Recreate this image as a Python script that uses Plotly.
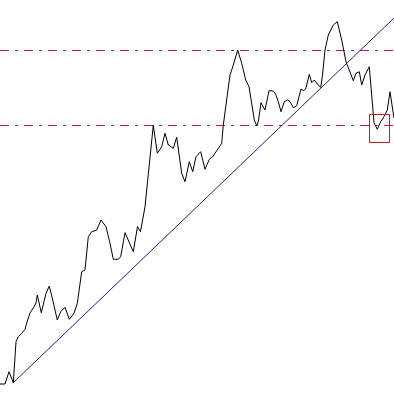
import plotly.graph_objects as go

W = 394
# time positions (bar index scale) and close prices (screen-derived scale)
t = [0,5,9,13.3,16,18.3,21.7,25,26.7,30,33.3,36,37.3,41.3,46,49.3,52.7,57.3,60.7,65,69.3,74,77.3,79.3,81.7,85,88.3,91.7,96.7,101,106,110,113.3,118.3,120.7,125,133.3,137.5,140.5,145,148.3,153.3,157.3,161.7,165,168.3,173.3,176.7,181.7,185,189.3,192.7,196,200.7,205,209.3,212.7,217.3,221.7,223.3,226.7,230,232.3,237.7,241.7,245.7,249,251.7,254.3,256.7,258.3,261,265,269,273.3,275.7,278.3,281,284.3,287.7,290,293.3,296.7,301,303.3,305.7,309.3,311.7,314.3,317.3,320.7,322.3,325,328.3,333.3,337.3,341.7,346,350,353.3,356,359.3,361.7,365,369.3,370.7,374,377.3,380.7,384,387.3,390,394]
ypix = [384,384,371.7,382.7,341.7,336.7,333.3,329.3,323,313,308,303,295,312.7,293.3,286,300,320,311.7,307.3,319.3,313.3,303.3,290,271.7,270,236.7,231.7,230,220,226.7,243.3,259.3,259.3,256.7,232.7,251.7,226.5,231.7,206.7,176.7,125,153.3,146.7,133.3,145,148.3,137.3,173.3,181.7,161.7,171.7,156.7,151.7,169.3,159.3,156.7,150,143.3,125,101.7,75,68.3,50,63.3,80,86.7,105,120,125.7,121.7,102.7,110,90.7,91,94.3,101.7,111.7,101.7,100,101.7,107.7,105.7,89,90.7,89,74.3,82.7,80,84,87.3,76.7,50,35,25,21.7,40,61.7,71.7,80.7,73.3,71.7,85,75,66.7,83.3,122.7,129.3,121.7,116.7,110,91.7,118]
price = [round(W - v, 1) for v in ypix]

resistance = [343.5, 268.5]
trend_t = [13, 394]
trend_p = [11, 376]
box_t = [369.5, 389.5]
box_p = [251.5, 279.5]

fig = go.Figure()
for r in resistance:
    fig.add_trace(go.Scatter(x=[0, W], y=[r, r], mode="lines", hoverinfo="skip",
                             line=dict(color="#c0143c", width=1, dash="9px,6px,3px,6px")))
fig.add_trace(go.Scatter(x=trend_t, y=trend_p, mode="lines",
                         line=dict(color="#202078", width=1), hoverinfo="skip"))
fig.add_trace(go.Scatter(x=t, y=price, mode="lines",
                         line=dict(color="black", width=1), hoverinfo="skip"))
fig.add_shape(type="rect", xref="x", yref="y", x0=box_t[0], x1=box_t[1],
              y0=box_p[0], y1=box_p[1], line=dict(color="#dd1111", width=1))

fig.update_layout(width=W, height=W, margin=dict(l=0, r=0, t=0, b=0),
                  paper_bgcolor="white", plot_bgcolor="white", showlegend=False,
                  xaxis=dict(range=[0, W], visible=False, fixedrange=True),
                  yaxis=dict(range=[0, W], visible=False, fixedrange=True))
fig.write_html("out.html", config={"displayModeBar": False})
